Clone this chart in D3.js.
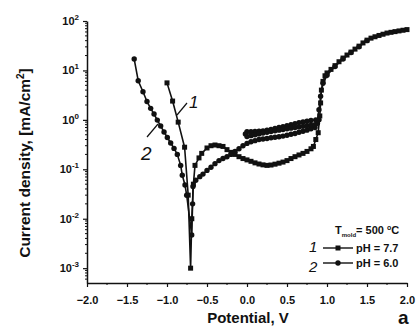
<!DOCTYPE html>
<html>
<head>
<meta charset="utf-8">
<script src="https://cdn.jsdelivr.net/npm/d3@7"></script>
<style>
  body { margin: 0; background: #fff; }
  text { font-family: "Liberation Sans", Arial, sans-serif; font-weight: bold; fill: #111; }
</style>
</head>
<body>
<div id="chart"></div>
<script>
// curve 1, pH = 7.7 (squares)
const potential1 = [-1.00, -0.93, -0.86, -0.78, -0.735, -0.705,
  -0.69, -0.67, -0.65, -0.60, -0.566, -0.50, -0.45, -0.40, -0.35, -0.30, -0.25, -0.20, -0.15, -0.10, -0.05,
  0.00, 0.05, 0.10, 0.15, 0.20, 0.25, 0.30, 0.35, 0.40, 0.45, 0.50, 0.55, 0.60, 0.65, 0.70, 0.75, 0.80,
  0.83, 0.86, 0.89, 0.91, 0.92, 0.93, 0.95, 0.975, 1.00, 1.05, 1.10, 1.15, 1.20, 1.25, 1.30, 1.35, 1.40,
  1.45, 1.50, 1.55, 1.60, 1.65, 1.70, 1.75, 1.80, 1.85, 1.90, 1.95, 2.00];
const current1 = [5.6, 2.4, 0.9, 0.28, 0.03, 0.001,
  0.01, 0.05, 0.12, 0.17, 0.21, 0.27, 0.30, 0.31, 0.30, 0.29, 0.25, 0.22, 0.20, 0.18, 0.165,
  0.155, 0.145, 0.135, 0.128, 0.123, 0.12, 0.122, 0.127, 0.133, 0.14, 0.15, 0.165, 0.18, 0.195, 0.21, 0.23, 0.26,
  0.29, 0.40, 0.55, 1.2, 2.2, 4.0, 6.0, 7.8, 8.9, 10.5, 12.5, 15, 17.8, 20.5, 23.5, 27, 31,
  36, 41, 45, 48, 51, 54, 57, 59, 61, 63, 65, 67];

// curve 2, pH = 6.0 (circles)
const potential2 = [-1.41, -1.36, -1.30, -1.25, -1.204, -1.162, -1.121, -1.079, -1.037, -0.996, -0.954,
  -0.912, -0.871, -0.829, -0.809, -0.775, -0.754, -0.691,
  -0.68, -0.675, -0.64, -0.59, -0.55, -0.50, -0.45, -0.40, -0.35, -0.30, -0.25, -0.20, -0.15, -0.10, -0.05,
  0.00, 0.05, 0.10, 0.15, 0.20, 0.25, 0.30, 0.35, 0.40, 0.45, 0.50, 0.55, 0.60, 0.65, 0.70, 0.75, 0.80, 0.85,
  0.88, 0.90,
  0.86, 0.80, 0.75, 0.70, 0.65, 0.60, 0.55, 0.50, 0.45, 0.40, 0.35, 0.30, 0.25, 0.20, 0.15, 0.10, 0.05, 0.00, -0.02,
  0.00, 0.05, 0.10, 0.15, 0.20, 0.25, 0.30, 0.35, 0.40, 0.45, 0.50, 0.55, 0.60, 0.65, 0.70, 0.75, 0.80, 0.85,
  0.88, 0.90, 0.92, 0.95, 1.00, 1.10, 1.20, 1.30, 1.40, 1.50];
const current2 = [17, 6.2, 3.7, 2.35, 1.71, 1.31, 0.99, 0.75, 0.57, 0.44, 0.34,
  0.265, 0.20, 0.12, 0.076, 0.048, 0.03, 0.0047,
  0.02, 0.045, 0.06, 0.071, 0.08, 0.095, 0.11, 0.13, 0.15, 0.165, 0.18, 0.20, 0.23, 0.26, 0.30,
  0.334, 0.36, 0.38, 0.40, 0.41, 0.42, 0.435, 0.445, 0.455, 0.47, 0.49, 0.51, 0.53, 0.56, 0.59, 0.62, 0.66, 0.70,
  0.85, 1.0,
  1.0, 0.97, 0.94, 0.91, 0.88, 0.84, 0.80, 0.76, 0.73, 0.70, 0.67, 0.64, 0.62, 0.60, 0.59, 0.58, 0.575, 0.575, 0.52,
  0.46, 0.48, 0.50, 0.52, 0.54, 0.56, 0.58, 0.60, 0.62, 0.64, 0.66, 0.68, 0.70, 0.72, 0.74, 0.76, 0.78, 0.80,
  0.95, 1.6, 3.0, 5.5, 8.0, 12, 17, 23, 30, 40];

const xTicks = [-2.0, -1.5, -1.0, -0.5, 0.0, 0.5, 1.0, 1.5, 2.0];
const yDecades = [-3, -2, -1, 0, 1, 2];

const width = 416, height = 334;
const svg = d3.select("#chart").append("svg")
  .attr("width", width)
  .attr("height", height);

const x = d3.scaleLinear().domain([-2, 2]).range([87, 407]);
const y = d3.scaleLog().domain([Math.pow(10, -3.3), 100]).range([283, 21]);

// x axis
const xAxis = svg.append("g")
  .attr("transform", "translate(0,283)")
  .call(d3.axisBottom(x).tickValues(xTicks).tickFormat(d3.format(".1f")).tickSize(4).tickSizeOuter(0));
xAxis.select(".domain").attr("stroke", "#111").attr("stroke-width", 1.5);
xAxis.selectAll(".tick line").attr("stroke", "#111").attr("stroke-width", 1.2);
xAxis.selectAll(".tick text")
  .attr("dy", "1.25em")
  .style("font-size", "11px")
  .style("font-family", "Liberation Sans, Arial, sans-serif")
  .style("font-weight", "bold")
  .attr("fill", "#111");

const xMinor = d3.range(-1.75, 2, 0.5);
svg.append("g").selectAll("line")
  .data(xMinor)
  .join("line")
  .attr("x1", d => x(d)).attr("x2", d => x(d))
  .attr("y1", 283).attr("y2", 285)
  .attr("stroke", "#111");

// y axis
const yAxis = svg.append("g")
  .attr("transform", "translate(87,0)")
  .call(d3.axisLeft(y).tickValues(yDecades.map(p => Math.pow(10, p))).tickFormat("").tickSize(4).tickSizeOuter(0));
yAxis.select(".domain").attr("stroke", "#111").attr("stroke-width", 1.5);
yAxis.selectAll(".tick line").attr("stroke", "#111").attr("stroke-width", 1.2);

const yMinor = [];
[-4, -3, -2, -1, 0, 1].forEach(p => {
  for (let k = 2; k <= 9; k++) {
    const v = k * Math.pow(10, p);
    if (v >= y.domain()[0] && v <= 100) yMinor.push(v);
  }
});
svg.append("g").selectAll("line")
  .data(yMinor)
  .join("line")
  .attr("x1", 85).attr("x2", 87)
  .attr("y1", d => y(d)).attr("y2", d => y(d))
  .attr("stroke", "#111");

const yLabels = svg.append("g").selectAll("text")
  .data(yDecades)
  .join("text")
  .attr("x", 79)
  .attr("y", d => y(Math.pow(10, d)) + 4)
  .attr("text-anchor", "end")
  .style("font-size", "11px");
yLabels.append("tspan").text("10");
yLabels.append("tspan")
  .attr("dy", -5)
  .style("font-size", "8px")
  .text(d => d);

// axis titles
svg.append("text")
  .attr("x", 248)
  .attr("y", 323)
  .attr("text-anchor", "middle")
  .style("font-size", "15px")
  .text("Potential, V");

const yTitle = svg.append("text")
  .attr("transform", "translate(30,163) rotate(-90)")
  .attr("text-anchor", "middle")
  .style("font-size", "15.5px");
yTitle.append("tspan").text("Current density, [mA/cm");
yTitle.append("tspan").attr("dy", -6).style("font-size", "10px").text("2");
yTitle.append("tspan").attr("dy", 6).text("]");

svg.append("text")
  .attr("x", 398)
  .attr("y", 324)
  .style("font-size", "19px")
  .text("a");

// curves
const line = d3.line()
  .x(d => x(d[0]))
  .y(d => y(d[1]));

const series1 = potential1.map((v, i) => [v, current1[i]]);
const series2 = potential2.map((v, i) => [v, current2[i]]);

[series1, series2].forEach(s => {
  svg.append("path")
    .datum(s)
    .attr("fill", "none")
    .attr("stroke", "#111")
    .attr("stroke-width", 1.6)
    .attr("stroke-linejoin", "round")
    .attr("d", line);
});

svg.append("g").selectAll("rect")
  .data(series1)
  .join("rect")
  .attr("x", d => x(d[0]) - 2.5)
  .attr("y", d => y(d[1]) - 2.5)
  .attr("width", 5)
  .attr("height", 5)
  .attr("fill", "#111");

svg.append("g").selectAll("circle")
  .data(series2)
  .join("circle")
  .attr("cx", d => x(d[0]))
  .attr("cy", d => y(d[1]))
  .attr("r", 2.7)
  .attr("fill", "#111");

// handwritten curve numbers
const hand = svg.append("g")
  .style("font-family", "DejaVu Serif, serif")
  .style("font-style", "italic");
svg.append("line").attr("x1", 177).attr("y1", 115).attr("x2", 187).attr("y2", 103)
  .attr("stroke", "#111").attr("stroke-width", 1.2);
hand.append("text").attr("x", 189).attr("y", 108).style("font-size", "17px").style("font-weight", "normal").text("1");
svg.append("line").attr("x1", 147).attr("y1", 137).attr("x2", 158).attr("y2", 124)
  .attr("stroke", "#111").attr("stroke-width", 1.2);
hand.append("text").attr("x", 141).attr("y", 160).style("font-size", "19px").style("font-weight", "normal").text("2");

// legend
const leg = svg.append("text")
  .attr("x", 335)
  .attr("y", 234)
  .style("font-size", "11px");
leg.append("tspan").text("T");
leg.append("tspan").attr("dy", 3).style("font-size", "6px").text("mold");
leg.append("tspan").attr("dy", -3).text("= 500 ");
leg.append("tspan").attr("dy", -4).style("font-size", "7px").text("o");
leg.append("tspan").attr("dy", 4).text("C");

const legendRows = [
  { label: "pH = 7.7", num: "1", yy: 248, shape: "square" },
  { label: "pH = 6.0", num: "2", yy: 263, shape: "circle" }
];
legendRows.forEach(r => {
  svg.append("line").attr("x1", 323).attr("x2", 353).attr("y1", r.yy).attr("y2", r.yy)
    .attr("stroke", "#111").attr("stroke-width", 1.4);
  if (r.shape === "square") {
    svg.append("rect").attr("x", 335.5).attr("y", r.yy - 2.5).attr("width", 5).attr("height", 5).attr("fill", "#111");
  } else {
    svg.append("circle").attr("cx", 338).attr("cy", r.yy).attr("r", 2.7).attr("fill", "#111");
  }
  svg.append("text").attr("x", 356).attr("y", r.yy + 4).style("font-size", "11px").text(r.label);
  hand.append("text").attr("x", 309).attr("y", r.num === "1" ? r.yy + 4 : r.yy + 9)
    .style("font-size", "15px").style("font-weight", "normal").text(r.num);
});
</script>
</body>
</html>
